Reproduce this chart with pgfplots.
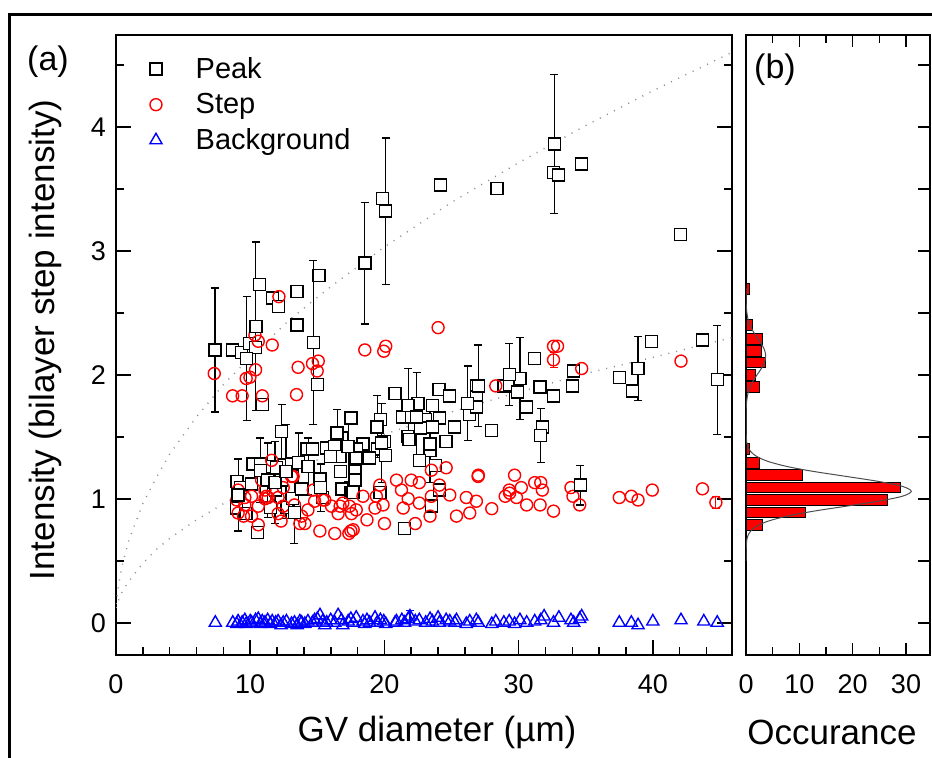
\documentclass[border=0pt]{standalone}
\usepackage{fontspec}
\setmainfont{Liberation Sans}
\usepackage{pgfplots}
\pgfplotsset{compat=1.18}
\begin{document}
\begin{tikzpicture}
\path[use as bounding box] (0,0) rectangle (466pt,379pt);
\draw[line width=1.5pt] (4.5pt,-20pt) rectangle (490pt,371.5pt);
\pgfplotsset{
  common/.style={
    scale only axis, anchor=south west,
    ymin=-0.26, ymax=4.74,
    tick align=inside,
    major tick length=7.5pt, minor tick length=4pt,
    axis line style={line width=1pt},
    every tick/.append style={black, line width=0.8pt},
    every minor tick/.append style={black, line width=0.8pt},
    tick label style={font=\fontsize{13.5}{13.5}\selectfont},
    xticklabel style={yshift=-6.5pt},
    yticklabel style={xshift=-1.5pt},
    /pgf/number format/assume math mode=true,
  },
  ebar/.style={error bars/.cd, y dir=both, y explicit,
    error bar style={#1, line width=0.6pt},
    error mark=-, error mark options={#1, rotate=90, mark size=2pt, line width=0.6pt}},
}
% ---------------- panel (a)
\begin{axis}[common,
  at={(58pt,51.5pt)}, width=308pt, height=310pt,
  xmin=0, xmax=45.9,
  xtick={0,10,20,30,40}, minor xtick={2,4,6,8,12,14,16,18,22,24,26,28,32,34,36,38,42,44},
  ytick={0,1,2,3,4}, minor ytick={0.5,1.5,2.5,3.5,4.5},
  xtick pos=bottom, ytick pos=both, yticklabel pos=left,
  legend style={at={(axis cs:1.2,4.63)}, anchor=north west, draw=none, fill=none,
    font=\fontsize{14.5}{17}\selectfont, row sep=2pt},
  legend cell align=left,
  legend image code/.code={\path (0cm,0cm) (0.92cm,0cm); \draw[mark repeat=2,mark phase=2,#1] plot coordinates {(0cm,0cm) (0.3cm,0cm) (0.6cm,0cm)};},
]
% dotted guide curves
\addplot[forget plot, black!45, line width=0.7pt, dash pattern=on 0.5pt off 3.5pt] coordinates {
(0,0.15)(0.25,0.34)(0.5,0.48)(1,0.68)(2,0.96)(3,1.17)(4,1.36)(6,1.66)(8,1.92)(10,2.14)(13,2.45)(16,2.71)(20,3.03)(25,3.39)(30,3.71)(35,4.01)(40,4.29)(45.9,4.60)};
\addplot[forget plot, black!45, line width=0.7pt, dash pattern=on 0.5pt off 3.5pt] coordinates {
(0,0.12)(0.25,0.20)(0.5,0.26)(1,0.34)(2,0.48)(3,0.59)(4,0.68)(6,0.83)(8,0.96)(10,1.07)(13,1.22)(16,1.36)(20,1.52)(25,1.70)(30,1.86)(35,2.01)(40,2.14)(45.9,2.30)};
% Peak (no error bars)
\addplot[only marks, mark=square*, mark size=3pt, mark options={draw=black, fill=white, line width=0.7pt}] coordinates {
(8.66,2.20)(9.36,2.18)(9.96,2.25)(10.40,2.22)(10.70,2.73)(11.64,2.62)(12.10,2.55)(13.50,2.67)(13.50,2.40)(15.14,2.80)(15.00,1.92)(10.90,1.76)(19.86,3.42)(24.20,3.53)(28.40,3.50)(32.60,3.63)(32.96,3.61)(34.70,3.70)(42.05,3.13)
(9.03,1.14)(9.28,1.09)(9.00,0.925)(9.68,0.88)(10.55,0.73)(10.20,1.28)(10.75,1.28)(11.27,1.21)(10.10,1.12)(11.66,1.26)(11.97,1.25)(12.34,1.15)(13.08,1.28)(14.24,1.40)(14.64,1.40)(11.89,1.07)(11.52,0.93)(12.75,0.93)(13.13,1.00)(13.83,1.08)(15.19,1.16)(15.38,1.01)(16.80,1.49)(15.69,1.41)(16.30,1.42)(16.68,1.34)(16.00,1.34)(16.75,1.22)(16.85,1.08)(17.50,1.65)(17.50,1.05)
(20.80,1.85)(24.07,1.88)(24.87,1.83)(26.85,1.91)(22.50,1.77)(23.57,1.75)(21.34,1.66)(22.00,1.66)(23.08,1.64)(24.10,1.65)(26.36,1.68)(19.70,1.64)(25.24,1.58)(22.70,1.57)(23.57,1.58)(21.77,1.50)(21.84,1.48)(24.60,1.46)(18.40,1.44)(20.00,1.46)(19.50,1.40)(20.10,1.35)(17.90,1.40)(17.87,1.33)(18.90,1.33)(23.40,1.39)(23.80,1.27)(22.60,1.31)(17.80,1.22)(17.80,1.15)(17.67,1.05)(19.66,1.05)(23.50,0.94)(21.50,0.76)(24.10,1.07)
(26.85,1.82)(26.85,1.74)(28.00,1.55)(31.20,2.13)(28.90,1.91)(29.30,1.92)(29.90,1.86)(30.60,1.74)(31.60,1.90)(32.60,1.83)(34.00,1.91)(34.10,2.03)(31.80,1.58)(37.50,1.98)(38.50,1.87)(39.90,2.27)(43.70,2.28)};
\addlegendentry{Peak}
% Step
\addplot[only marks, mark=o, mark size=3pt, red, mark options={line width=0.7pt}] coordinates {
(7.32,2.01)(10.35,2.32)(10.60,2.27)(11.64,2.24)(12.14,2.63)(10.40,2.04)(9.70,1.97)(9.98,1.98)(8.69,1.83)(9.40,1.83)(10.90,1.83)(13.45,1.84)(13.57,2.06)(14.64,2.09)(15.07,2.11)(14.99,2.03)(18.54,2.20)(19.95,2.19)(20.10,2.23)(24.00,2.38)(32.60,2.23)(32.90,2.23)(34.70,2.05)(28.30,1.91)(42.10,2.11)
(11.34,1.01)(10.60,0.94)(10.10,0.86)(10.60,0.79)(9.60,1.01)(11.10,1.00)(12.08,1.01)(13.08,1.18)(11.60,1.31)(12.08,0.88)(13.83,0.86)(14.07,0.80)(14.30,0.91)(13.70,0.80)(15.19,0.74)(16.30,0.72)(15.56,0.99)(16.06,0.94)(16.55,0.88)(16.90,0.965)(17.55,0.88)(17.35,0.72)(14.70,1.07)(13.20,1.18)(10.85,1.15)(9.10,0.885)(9.10,1.07)
(17.40,0.94)(17.67,0.75)(18.40,1.02)(18.70,0.83)(19.30,0.925)(19.90,0.95)(20.00,0.80)(19.66,1.11)(20.90,1.15)(21.27,1.07)(21.40,0.925)(21.77,1.00)(22.30,0.80)(22.00,1.15)(22.60,1.13)(22.60,0.965)(23.40,0.86)(23.50,1.02)(24.10,1.11)(24.87,1.03)(25.37,0.86)(26.10,1.01)(26.36,0.885)(26.85,0.98)(26.98,1.18)(27.00,1.19)(24.60,1.25)(23.50,1.23)
(28.00,0.92)(29.00,1.02)(29.30,1.07)(29.33,1.045)(29.70,1.19)(29.84,1.01)(30.20,1.09)(30.60,0.95)(31.20,1.13)(31.65,1.13)(31.77,1.07)(31.60,0.95)(32.60,0.90)(33.90,1.09)(34.05,1.02)(34.55,0.95)(37.50,1.01)(38.40,1.02)(38.90,0.99)(39.96,1.07)(43.70,1.08)
(9.00,0.99)(10.10,1.02)(9.50,0.86)(11.20,1.02)(12.30,0.82)(15.40,0.99)(16.70,0.94)(17.90,0.91)(19.40,1.02)(17.50,0.74)(12.46,0.94)(13.30,0.95)(14.80,0.98)(12.46,1.09)(11.10,1.07)(9.60,0.95)};
\addlegendentry{Step}
% Background
\addplot[only marks, mark=triangle, mark size=3.5pt, blue, mark options={line width=0.7pt}] coordinates {
(7.4,0.00)(8.7,0.00)(9.0,-0.01)(9.1,0.01)(9.4,0.00)(9.6,0.02)(9.7,-0.01)(10.0,0.01)(10.1,0.00)(10.4,0.02)(10.6,0.03)(10.75,-0.01)(10.9,0.01)(11.1,0.00)(11.3,0.02)(11.5,-0.01)(11.64,0.01)(11.9,0.00)(12.08,0.01)(12.3,-0.02)(12.46,0.00)(12.7,0.01)(13.08,-0.01)(13.3,0.00)(13.5,-0.02)(13.7,0.01)(13.83,0.00)(14.07,-0.01)(14.3,0.01)(14.64,0.00)(14.8,0.02)(15.0,0.03)(15.2,0.06)(15.4,0.01)(15.56,-0.02)(15.7,0.00)(16.0,0.02)(16.3,0.00)(16.55,0.06)(16.8,0.02)(16.9,-0.02)(17.3,0.01)(17.5,0.03)(17.67,0.00)(17.9,0.04)(18.4,0.01)(18.54,-0.01)(18.7,0.02)(18.9,0.00)(19.3,0.04)(19.46,0.00)(19.7,0.02)(19.95,0.01)(20.1,-0.01)(20.8,0.00)(20.9,0.01)(21.3,0.02)(21.5,0.00)(21.77,0.03)(22.3,0.01)(22.6,0.02)(23.08,0.00)(23.4,0.03)(23.57,0.01)(24.0,0.04)(24.1,0.00)(24.6,0.02)(24.87,0.01)(25.24,0.00)(25.37,0.02)(26.1,-0.01)(26.36,0.01)(26.85,0.02)(27.0,0.00)(28.0,-0.01)(28.3,0.01)(28.9,0.00)(29.3,0.01)(29.7,-0.01)(30.1,0.02)(30.6,0.00)(31.2,0.01)(31.65,0.02)(31.9,0.05)(32.6,0.00)(33.0,0.04)(33.9,0.02)(34.1,0.00)(34.55,0.03)(34.7,0.05)(37.5,0.00)(38.4,0.00)(38.9,-0.02)(40.0,0.01)(42.1,0.02)(43.8,0.01)(44.8,0.00)};
\addlegendentry{Background}
% Background with error bar
\addplot[forget plot, only marks, mark=triangle, mark size=3.5pt, blue, mark options={line width=0.7pt}, ebar=blue]
  table[row sep=\\, x=x, y=y, y error=e] {x y e\\ 21.9 0.05 0.05\\};
% Step with error bars
\addplot[forget plot, only marks, mark=o, mark size=3pt, red, mark options={line width=0.7pt}, ebar=red]
  table[row sep=\\, x=x, y=y, y error=e] {x y e\\ 32.60 2.12 0.06\\ 44.70 0.97 0.05\\};
% Peak with error bars
\addplot[forget plot, only marks, mark=square*, mark size=3pt, mark options={draw=black, fill=white, line width=0.7pt}, ebar=black]
  table[row sep=\\, x=x, y=y, y error=e] {
x y e\\
7.37 2.20 0.50\\
9.73 2.13 0.50\\
10.42 2.39 0.68\\
14.70 2.26 0.66\\
18.54 2.90 0.49\\
20.10 3.32 0.59\\
32.67 3.86 0.56\\
9.10 1.03 0.29\\
10.75 1.23 0.26\\
12.34 1.54 0.22\\
11.30 1.15 0.30\\
11.84 1.13 0.33\\
12.66 1.22 0.38\\
13.60 1.29 0.24\\
14.32 1.26 0.23\\
13.28 0.89 0.25\\
15.24 1.09 0.19\\
16.48 1.53 0.19\\
17.30 1.42 0.28\\
26.20 1.77 0.30\\
21.77 1.75 0.30\\
22.40 1.66 0.36\\
19.46 1.58 0.25\\
19.80 1.45 0.32\\
23.40 1.44 0.31\\
27.00 1.91 0.33\\
30.10 1.97 0.33\\
29.30 2.00 0.25\\
31.65 1.51 0.22\\
34.60 1.11 0.16\\
38.90 2.05 0.26\\
44.80 1.96 0.44\\
};
\end{axis}
% ---------------- panel (b)
\begin{axis}[common,
  at={(373pt,51.5pt)}, width=92pt, height=310pt,
  xmin=0, xmax=34.5,
  xtick={0,10,20,30}, minor xtick={5,15,25}, xtick pos=both, xticklabel pos=lower,
  ytick={0,0.5,1,1.5,2,2.5,3,3.5,4,4.5}, yticklabels={}, ytick pos=right,
  major tick length=6pt,
]
\addplot[xbar, bar width=0.085, bar shift=0pt, fill=red, draw=black, line width=0.5pt] coordinates {
(0.63,2.69)(1.13,2.40)(3.07,2.29)(2.94,2.19)(3.6,2.10)(1.75,2.00)(2.44,1.90)
(0.63,1.40)(2.44,1.29)(10.5,1.19)(28.9,1.09)(26.5,0.99)(11.1,0.89)(3.1,0.79)};
\addplot[black!70, line width=0.5pt, smooth] coordinates {
(0,0.50)(0.02,0.58)(0.12,0.66)(0.34,0.70)(0.89,0.74)(2.04,0.78)(4.2,0.82)(7.7,0.86)(12.7,0.90)(18.8,0.94)(24.8,0.98)(29.3,1.02)(31,1.06)(29.3,1.10)(24.8,1.14)(18.8,1.18)(12.7,1.22)(7.7,1.26)(4.2,1.30)(2.04,1.34)(0.89,1.38)(0.34,1.42)(0.12,1.46)(0.02,1.54)(0,1.62)};
\addplot[black!70, line width=0.5pt, smooth] coordinates {
(0,1.62)(0.02,1.68)(0.06,1.75)(0.16,1.80)(0.37,1.85)(0.75,1.90)(1.33,1.95)(2.08,2.00)(2.87,2.05)(3.47,2.10)(3.7,2.15)(3.47,2.20)(2.87,2.25)(2.08,2.30)(1.33,2.35)(0.75,2.40)(0.37,2.45)(0.16,2.50)(0.06,2.55)(0.02,2.62)(0,2.70)};
\end{axis}
% ---------------- labels
\node[font=\fontsize{17}{17}\selectfont] at (24pt,348pt) {(a)};
\node[font=\fontsize{17}{17}\selectfont] at (387.5pt,344pt) {(b)};
\node[rotate=90, font=\fontsize{17.5}{17.5}\selectfont] at (22.5pt,209pt) {Intensity (bilayer step intensity)};
\node[font=\fontsize{17.5}{17.5}\selectfont] at (218.5pt,13pt) {GV diameter (µm)};
\node[font=\fontsize{17.5}{17.5}\selectfont] at (416pt,13pt) {Occurance};
\end{tikzpicture}
\end{document}
